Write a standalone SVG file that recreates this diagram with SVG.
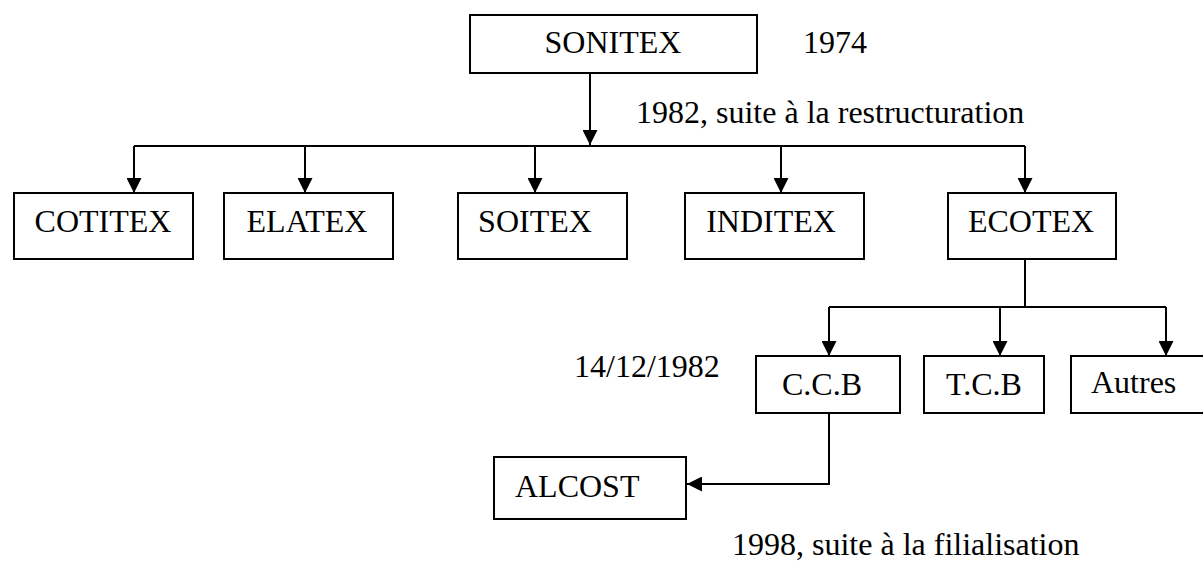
<svg xmlns="http://www.w3.org/2000/svg" width="1203" height="561" viewBox="0 0 1203 561">
<style>
.box{fill:#fff;stroke:#000;stroke-width:2}
.t{font-family:"Liberation Serif","Times New Roman",serif;font-size:32px;fill:#000}
.c{fill:none;stroke:#000;stroke-width:2}
</style>
<defs>
<marker id="ah" viewBox="0 0 15 15" refX="15" refY="7.5" markerWidth="15" markerHeight="15" markerUnits="userSpaceOnUse" orient="auto">
<path d="M0,0 L15,7.5 L0,15 Z" fill="#000"/>
</marker>
</defs>
<rect width="1203" height="561" fill="#fff"/>
<g id="connectors">
<path class="c" d="M590,73 V145" marker-end="url(#ah)"/>
<path class="c" d="M134,146 H1025"/>
<path class="c" d="M134,146 V193" marker-end="url(#ah)"/>
<path class="c" d="M305,146 V193" marker-end="url(#ah)"/>
<path class="c" d="M535,146 V193" marker-end="url(#ah)"/>
<path class="c" d="M781,146 V193" marker-end="url(#ah)"/>
<path class="c" d="M1025,146 V193" marker-end="url(#ah)"/>
<path class="c" d="M1025,259 V307"/>
<path class="c" d="M829,307 H1166"/>
<path class="c" d="M829,307 V356" marker-end="url(#ah)"/>
<path class="c" d="M1000,307 V356" marker-end="url(#ah)"/>
<path class="c" d="M1166,307 V356" marker-end="url(#ah)"/>
<path class="c" d="M829,413 V484 H687" marker-end="url(#ah)"/>
</g>
<g id="sonitex"><rect class="box" x="470" y="15" width="287" height="58"/><text class="t" x="613" y="53" text-anchor="middle">SONITEX</text></g>
<g id="cotitex"><rect class="box" x="14" y="193" width="179" height="66"/><text class="t" x="103" y="232" text-anchor="middle">COTITEX</text></g>
<g id="elatex"><rect class="box" x="224" y="193" width="169" height="66"/><text class="t" x="307" y="232" text-anchor="middle">ELATEX</text></g>
<g id="soitex"><rect class="box" x="458" y="193" width="169" height="66"/><text class="t" x="535" y="232" text-anchor="middle">SOITEX</text></g>
<g id="inditex"><rect class="box" x="685" y="193" width="179" height="66"/><text class="t" x="771" y="232" text-anchor="middle">INDITEX</text></g>
<g id="ecotex"><rect class="box" x="948" y="193" width="168" height="66"/><text class="t" x="1031" y="232" text-anchor="middle">ECOTEX</text></g>
<g id="ccb"><rect class="box" x="756" y="356" width="144" height="57"/><text class="t" x="822" y="395" text-anchor="middle">C.C.B</text></g>
<g id="tcb"><rect class="box" x="924" y="356" width="120" height="57"/><text class="t" x="984" y="395" text-anchor="middle">T.C.B</text></g>
<g id="autres"><rect class="box" x="1071" y="356" width="140" height="57"/><text class="t" x="1091" y="393">Autres</text></g>
<g id="alcost"><rect class="box" x="494" y="457" width="192" height="62"/><text class="t" x="515" y="497">ALCOST</text></g>
<g id="labels">
<text class="t" x="803" y="53">1974</text>
<text class="t" x="636" y="123">1982, suite à la restructuration</text>
<text class="t" x="574" y="377">14/12/1982</text>
<text class="t" x="732" y="555">1998, suite à la filialisation</text>
</g>
</svg>
